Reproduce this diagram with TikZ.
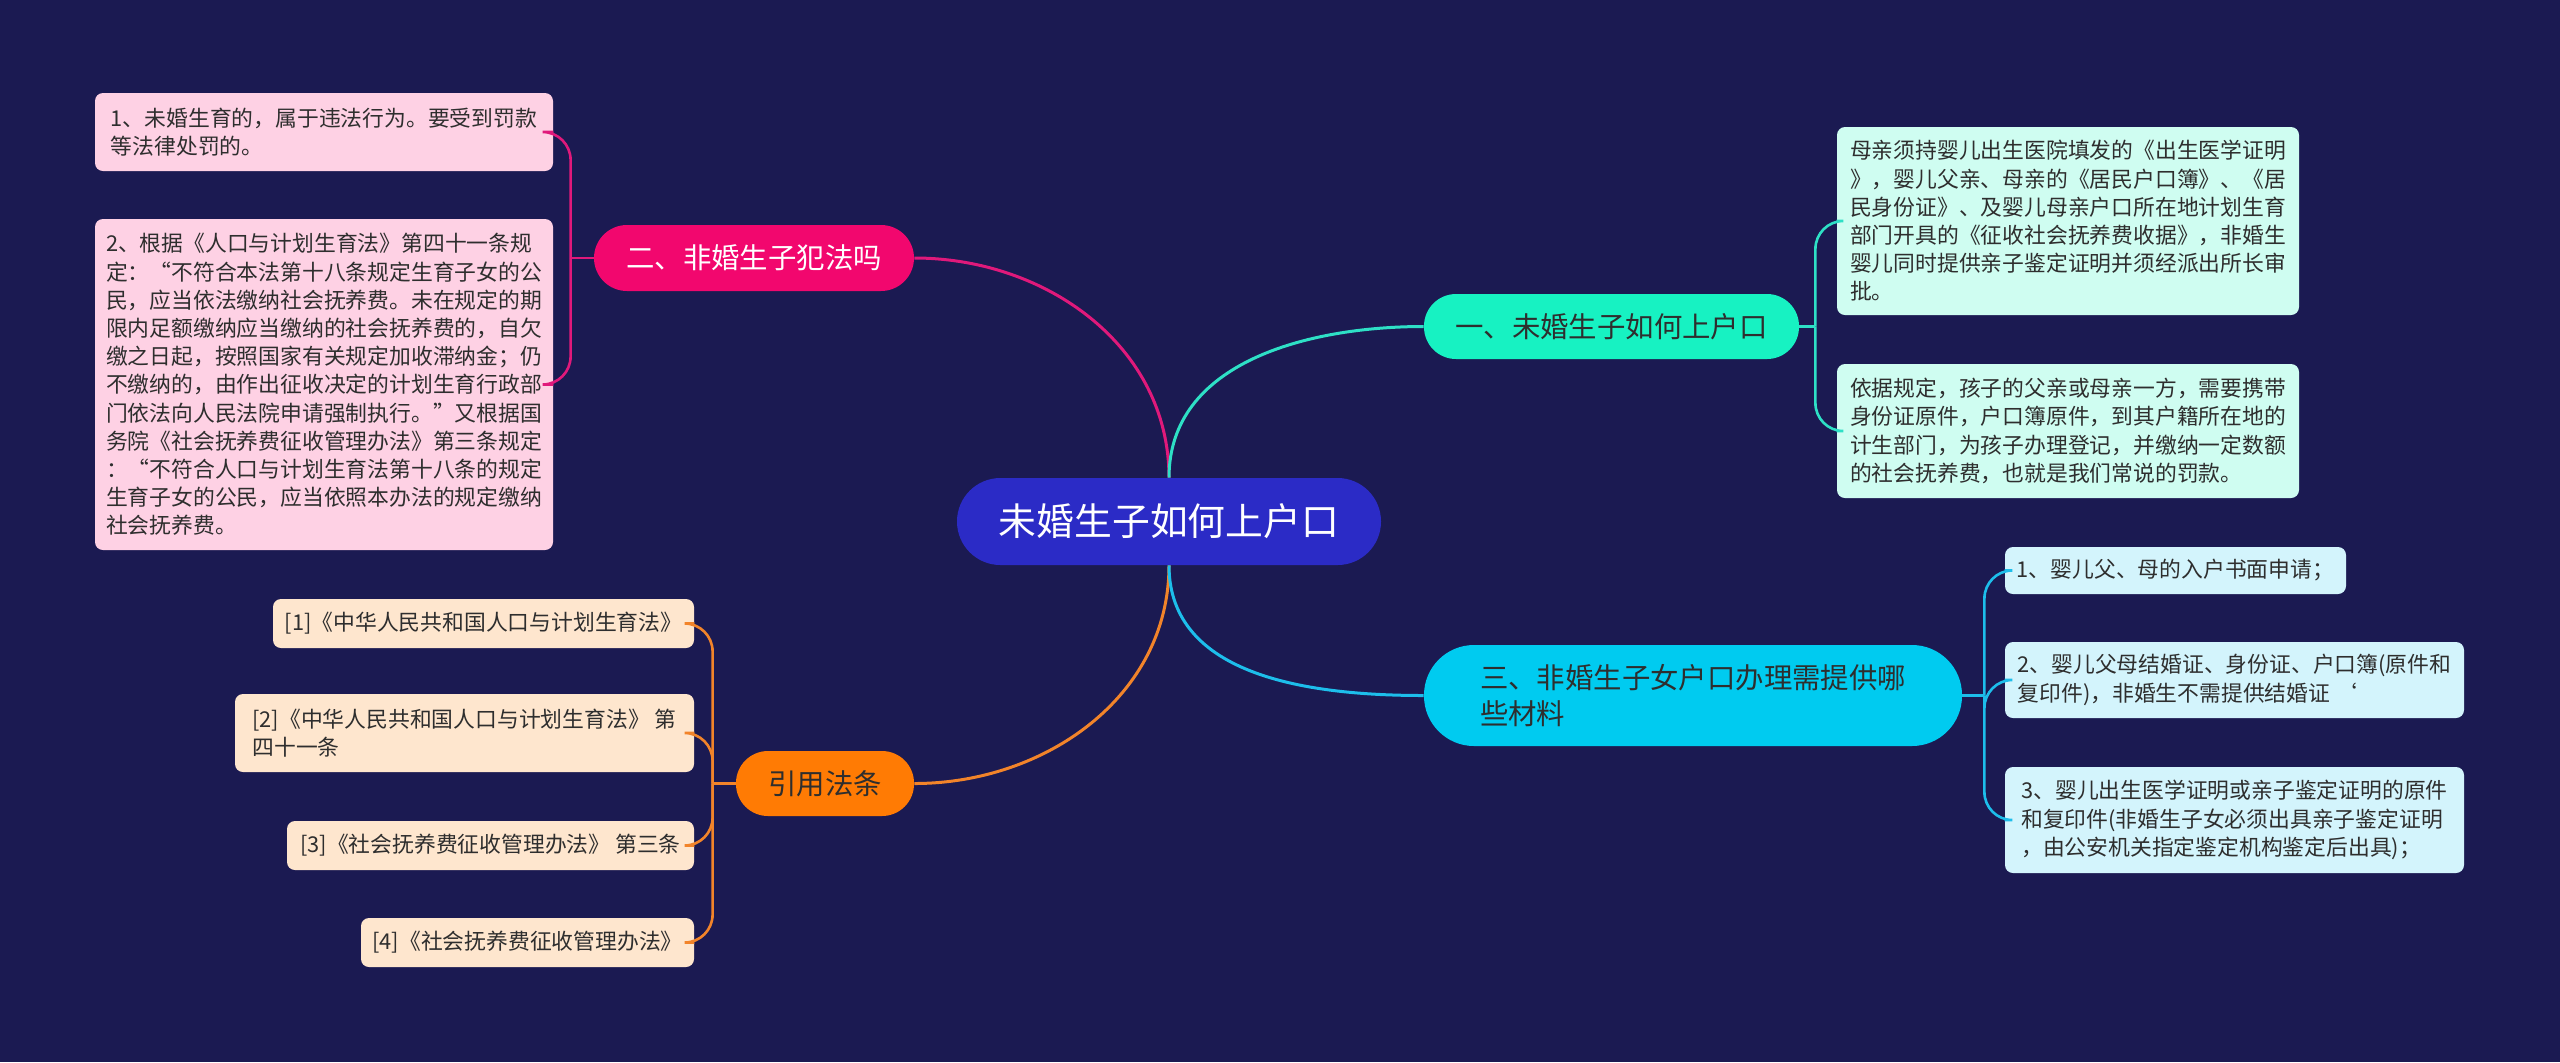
\documentclass[tikz,border=0pt]{standalone}
\usepackage{fontspec}
\setmainfont{Noto Sans CJK SC}
\definecolor{bg}{HTML}{1B1A52}
\definecolor{cfill}{HTML}{2B2BC6}
\definecolor{tealf}{HTML}{17F2C2}
\definecolor{teall}{HTML}{2EE0C6}
\definecolor{mintbox}{HTML}{CFFDF1}
\definecolor{skyf}{HTML}{00CBF0}
\definecolor{skyl}{HTML}{1DBEEB}
\definecolor{skybox}{HTML}{D3F4FC}
\definecolor{pinkf}{HTML}{F2076E}
\definecolor{pinkl}{HTML}{E0197B}
\definecolor{pinkbox}{HTML}{FED1E4}
\definecolor{orangef}{HTML}{FF7B04}
\definecolor{orangel}{HTML}{F2842A}
\definecolor{orangebox}{HTML}{FEE6CE}
\definecolor{darktext}{HTML}{2E2E2E}
\begin{document}
\begin{tikzpicture}[x=0.5pt,y=-0.5pt,
  leaf/.style={rounded corners=4pt, inner xsep=5pt, inner ysep=0pt, align=left,
    font=\fontsize{10.9pt}{14.1pt}\selectfont, text=darktext},
  branch/.style={inner xsep=8pt, inner ysep=0pt, align=left,
    font=\fontsize{14.2pt}{18pt}\selectfont},
  mainline/.style={line width=1.5pt},
  subline/.style={line width=1.3pt, rounded corners=14pt}
]
\useasboundingbox (0,0) rectangle (2560,1062);
\fill[bg] (0,0) rectangle (2560,1062);

% center
\node[fill=cfill, text=white, rounded corners=21.7pt, minimum width=212pt, minimum height=43.5pt,
  inner sep=0pt, font=\fontsize{18.9pt}{22pt}\selectfont] (C) at (1169,521.5) {未婚生子如何上户口};

% branches
\node[branch, fill=tealf, text=darktext, rounded corners=16pt, minimum width=187.5pt, minimum height=32.5pt] (B1) at (1611.5,326.5) {一、未婚生子如何上户口};
\node[branch, fill=skyf, text=darktext, rounded corners=25pt, minimum width=269pt, minimum height=50.5pt] (B3) at (1693,695.5) {三、非婚生子女户口办理需提供哪\\些材料};
\node[branch, fill=pinkf, text=white, rounded corners=16.5pt, minimum width=160pt, minimum height=33pt] (B2) at (754,258) {二、非婚生子犯法吗};
\node[branch, fill=orangef, text=darktext, rounded corners=16pt, minimum width=89pt, minimum height=32.5pt] (B4) at (825,783.5) {引用法条};

% leaves of B1
\node[leaf, fill=mintbox, minimum width=231pt, minimum height=94pt] (A1) at (2068,221) {母亲须持婴儿出生医院填发的《出生医学证明\\》，婴儿父亲、母亲的《居民户口簿》、《居\\民身份证》、及婴儿母亲户口所在地计划生育\\部门开具的《征收社会抚养费收据》，非婚生\\婴儿同时提供亲子鉴定证明并须经派出所长审\\批。};
\node[leaf, fill=mintbox, minimum width=231pt, minimum height=67pt] (A2) at (2068,431) {依据规定，孩子的父亲或母亲一方，需要携带\\身份证原件，户口簿原件，到其户籍所在地的\\计生部门，为孩子办理登记，并缴纳一定数额\\的社会抚养费，也就是我们常说的罚款。};

% leaves of B3
\node[leaf, fill=skybox, minimum width=170.5pt, minimum height=23.5pt] (C1) at (2175.5,570.5) {1、婴儿父、母的入户书面申请；};
\node[leaf, fill=skybox, minimum width=229.5pt, minimum height=38pt] (C2) at (2234.5,680) {2、婴儿父母结婚证、身份证、户口簿(原件和\\复印件)，非婚生不需提供结婚证 ‘};
\node[leaf, fill=skybox, minimum width=229.5pt, minimum height=53pt] (C3) at (2234.5,820) {3、婴儿出生医学证明或亲子鉴定证明的原件\\和复印件(非婚生子女必须出具亲子鉴定证明\\，由公安机关指定鉴定机构鉴定后出具)；};

% leaves of B2
\node[leaf, fill=pinkbox, minimum width=229pt, minimum height=39pt] (P1) at (324,132) {1、未婚生育的，属于违法行为。要受到罚款\\等法律处罚的。};
\node[leaf, fill=pinkbox, minimum width=229pt, minimum height=165.5pt] (P2) at (324,384.5) {2、根据《人口与计划生育法》第四十一条规\\定：“不符合本法第十八条规定生育子女的公\\民，应当依法缴纳社会抚养费。未在规定的期\\限内足额缴纳应当缴纳的社会抚养费的，自欠\\缴之日起，按照国家有关规定加收滞纳金；仍\\不缴纳的，由作出征收决定的计划生育行政部\\门依法向人民法院申请强制执行。”又根据国\\务院《社会抚养费征收管理办法》第三条规定\\：“不符合人口与计划生育法第十八条的规定\\生育子女的公民，应当依照本办法的规定缴纳\\社会抚养费。};

% leaves of B4
\node[leaf, fill=orangebox, minimum width=210.5pt, minimum height=24.5pt] (L1) at (483.5,623.5) {[1]《中华人民共和国人口与计划生育法》};
\node[leaf, fill=orangebox, minimum width=229.5pt, minimum height=39pt] (L2) at (464.5,733) {[2]《中华人民共和国人口与计划生育法》 第\\四十一条};
\node[leaf, fill=orangebox, minimum width=203.5pt, minimum height=24.5pt] (L3) at (490.5,845.5) {[3]《社会抚养费征收管理办法》 第三条};
\node[leaf, fill=orangebox, minimum width=166.5pt, minimum height=24.5pt] (L4) at (527.5,942.5) {[4]《社会抚养费征收管理办法》};

% main connectors
\draw[mainline, pinkl] (C.north) to[out=90,in=0] (B2.east);
\draw[mainline, teall] (C.north) to[out=90,in=180] (B1.west);
\draw[mainline, orangel] (C.south) to[out=-90,in=0] (B4.east);
\draw[mainline, skyl] (C.south) to[out=-90,in=180] (B3.west);

% junction points
\path (B1.east) ++(16,0) coordinate (j1);
\path (B3.east) ++(22,0) coordinate (j3);
\path (B2.west) ++(-23,0) coordinate (j2);
\path (B4.west) ++(-23,0) coordinate (j4);

% sub connectors
\draw[subline, teall] (B1.east) -- (j1);
\draw[subline, teall] (j1) |- (A1.west);
\draw[subline, teall] (j1) |- (A2.west);

\draw[subline, skyl] (B3.east) -- (j3);
\draw[subline, skyl] (j3) |- (C1.west);
\draw[subline, skyl] (j3) |- (C2.west);
\draw[subline, skyl] (j3) |- (C3.west);

\draw[subline, pinkl] (B2.west) -- (j2);
\draw[subline, pinkl] (j2) |- (P1.east);
\draw[subline, pinkl] (j2) |- (P2.east);

\draw[subline, orangel] (B4.west) -- (j4);
\draw[subline, orangel] (j4) |- (L1.east);
\draw[subline, orangel] (j4) |- (L2.east);
\draw[subline, orangel] (j4) |- (L3.east);
\draw[subline, orangel] (j4) |- (L4.east);
\end{tikzpicture}
\end{document}
